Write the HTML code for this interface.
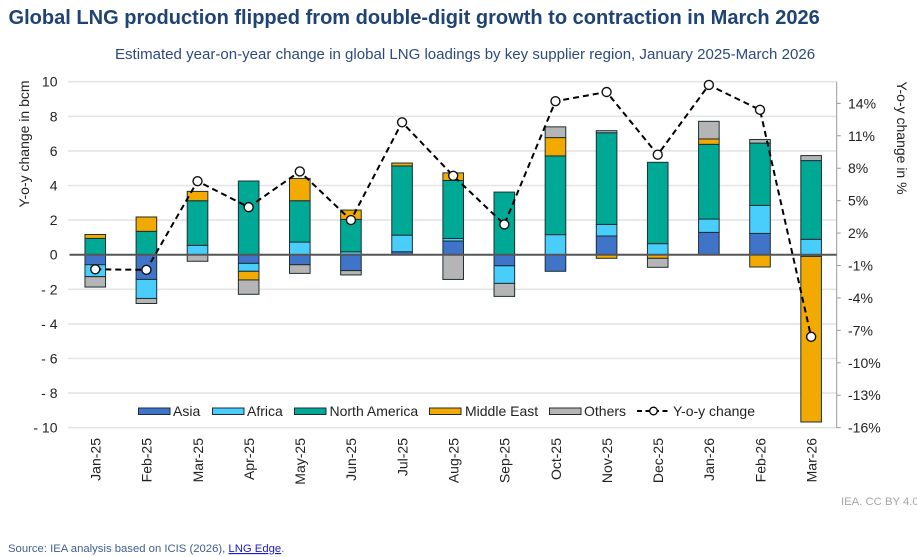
<!DOCTYPE html>
<html lang="en">
<head>
<meta charset="utf-8">
<title>Global LNG production</title>
<style>
html,body{margin:0;padding:0;background:#fff;width:917px;height:557px;overflow:hidden}
svg{display:block;font-family:"Liberation Sans",sans-serif}
</style>
</head>
<body>
<svg id="chart" width="917" height="557" viewBox="0 0 917 557" xmlns="http://www.w3.org/2000/svg">
  <text x="8.5" y="24" font-size="20.05" font-weight="700" fill="#1f4374">Global LNG production flipped from double-digit growth to contraction in March 2026</text>
  <text x="115" y="59" font-size="15.05" fill="#2b4a7d">Estimated year-on-year change in global LNG loadings by key supplier region, January 2025-March 2026</text>
  <g id="grid"></g>
  <g id="bars"></g>
  <line x1="836.7" x2="836.7" y1="81.7" y2="427.7" stroke="#9a9a9a" stroke-width="1"></line>
  <g id="zero"></g>
  <g id="line"></g>
  <g id="axes"></g>
  <text transform="translate(29,144) rotate(-90)" text-anchor="middle" font-size="14" fill="#222">Y-o-y change in bcm</text>
  <text transform="translate(897,138) rotate(90)" text-anchor="middle" font-size="14" fill="#222">Y-o-y change in %</text>
  <g font-size="14" fill="#222">
    <rect x="138.5" y="408" width="31.5" height="6.5" fill="#3f74c9" stroke="#1d2b3a"></rect>
    <text x="173" y="416">Asia</text>
    <rect x="212.5" y="408" width="31.5" height="6.5" fill="#49cdfb" stroke="#1d2b3a"></rect>
    <text x="247" y="416">Africa</text>
    <rect x="294.5" y="408" width="31.5" height="6.5" fill="#00a896" stroke="#1d2b3a"></rect>
    <text x="329.5" y="416">North America</text>
    <rect x="429.5" y="408" width="31.5" height="6.5" fill="#f2a900" stroke="#1d2b3a"></rect>
    <text x="465" y="416">Middle East</text>
    <rect x="549.5" y="408" width="31.5" height="6.5" fill="#b5b5b5" stroke="#2a2a2a"></rect>
    <text x="584" y="416">Others</text>
    <line x1="637" x2="670" y1="411" y2="411" stroke="#000" stroke-width="2" stroke-dasharray="5 3.5"></line>
    <circle cx="653.5" cy="411" r="3.8" fill="#fff" stroke="#000" stroke-width="1.3"></circle>
    <text x="673" y="416">Y-o-y change</text>
  </g>
  <text x="841" y="505" font-size="11.3" fill="#a6a6a6">IEA. CC BY 4.0</text>
  <text x="8" y="552" font-size="11.3" fill="#3f5f8f">Source: IEA analysis based on ICIS (2026), <tspan fill="#1a1ad6" text-decoration="underline">LNG Edge</tspan>.</text>
</svg>
<script>
var months = ["Jan-25","Feb-25","Mar-25","Apr-25","May-25","Jun-25","Jul-25","Aug-25","Sep-25","Oct-25","Nov-25","Dec-25","Jan-26","Feb-26","Mar-26"];
var asia = [-0.58,-1.43,0,-0.5,-0.58,-0.92,0.17,0.79,-0.64,-0.96,1.08,0,1.29,1.23,-0.1];
var africa = [-0.69,-1.1,0.54,-0.46,0.73,0.17,0.96,0.15,-1.02,1.16,0.67,0.64,0.77,1.62,0.89];
var northAmerica = [0.94,1.35,2.58,4.26,2.39,1.87,4.0,3.35,3.62,4.55,5.3,4.7,4.32,3.6,4.55];
var middleEast = [0.23,0.83,0.54,-0.5,1.29,0.54,0.17,0.44,0,1.06,-0.21,-0.21,0.31,-0.71,-9.57];
var others = [-0.6,-0.29,-0.38,-0.83,-0.5,-0.25,0,-1.43,-0.75,0.62,0.12,-0.52,1.02,0.21,0.29];
var yoyChange = [-1.35,-1.4,6.8,4.4,7.7,3.2,12.25,7.3,2.8,14.2,15.05,9.25,15.7,13.4,-7.6];
var leftTicks = [10,8,6,4,2,0,-2,-4,-6,-8,-10];
var rightTicks = [14,11,8,5,2,-1,-4,-7,-10,-13,-16];

var seriesNames = ["asia","africa","north-america","middle-east","others"];
var seriesColors = ["#3f74c9","#49cdfb","#00a896","#f2a900","#b5b5b5"];
var seriesValues = [asia,africa,northAmerica,middleEast,others];

var NS = "http://www.w3.org/2000/svg";
var plotLeft = 69.7, plotRight = 836.7, zeroY = 254.7;
function xPos(i){ return plotLeft + (plotRight - plotLeft) * (i + 0.5) / months.length; }
function yLeft(v){ return zeroY - v * 17.3; }
function yRight(p){ return zeroY - p * 10.81; }
function make(tag, parent, attrs){
  var el = document.createElementNS(NS, tag);
  for (var k in attrs) el.setAttribute(k, attrs[k]);
  parent.appendChild(el);
  return el;
}
function leftLabel(v){ return v < 0 ? "- " + Math.abs(v) : String(v); }

var gridG = document.getElementById("grid");
var barsG = document.getElementById("bars");
var zeroG = document.getElementById("zero");
var lineG = document.getElementById("line");
var axesG = document.getElementById("axes");

leftTicks.forEach(function(v){
  if (v !== 0) {
    var g = make("line", gridG, {x1:68, x2:plotRight, y1:yLeft(v), y2:yLeft(v), stroke:"#e4e4e4", "stroke-width":1.6});
    
    
  }
  var t = make("text", axesG, {x:57.5, y:yLeft(v)+5, "text-anchor":"end", "font-size":14, fill:"#222"});
  t.textContent = leftLabel(v);
  
  
});

rightTicks.forEach(function(p){
  var tk = make("line", axesG, {x1:plotRight, x2:plotRight+4, y1:yRight(p), y2:yRight(p), stroke:"#9a9a9a", "stroke-width":1});
  
  
  var t = make("text", axesG, {x:848, y:yRight(p)+5, "font-size":14, fill:"#222"});
  t.textContent = p + "%";
  
  
});

months.forEach(function(m, i){
  var pos = 0, neg = 0;
  seriesValues.forEach(function(arr, s){
    var v = arr[i];
    if (!v) return;
    var a, b;
    if (v > 0) { a = pos; pos += v; b = pos; }
    else { a = neg; neg += v; b = neg; }
    var top = yLeft(Math.max(a, b)), bot = yLeft(Math.min(a, b));
    var r = make("rect", barsG, {x:xPos(i)-10.3, y:top, width:20.6, height:bot-top, fill:seriesColors[s], stroke:"#1c2f33", "stroke-width":1});
    
    
  });
  var lab = make("text", axesG, {transform:"translate(" + (xPos(i)+5.3) + ",438) rotate(-90)", "text-anchor":"end", "font-size":14, fill:"#222"});
  lab.textContent = m;
  
  
});

var zl = make("line", zeroG, {x1:69.5, x2:plotRight, y1:zeroY, y2:zeroY, stroke:"#555", "stroke-width":2});



var pts = yoyChange.map(function(p, i){ return xPos(i) + "," + yRight(p); }).join(" ");
var pl = make("polyline", lineG, {points:pts, fill:"none", stroke:"#000", "stroke-width":2, "stroke-dasharray":"6 4"});


yoyChange.forEach(function(p, i){
  var c = make("circle", lineG, {cx:xPos(i), cy:yRight(p), r:4.5, fill:"#fff", stroke:"#111", "stroke-width":1.4});
  
  
});
</script>
</body>
</html>
